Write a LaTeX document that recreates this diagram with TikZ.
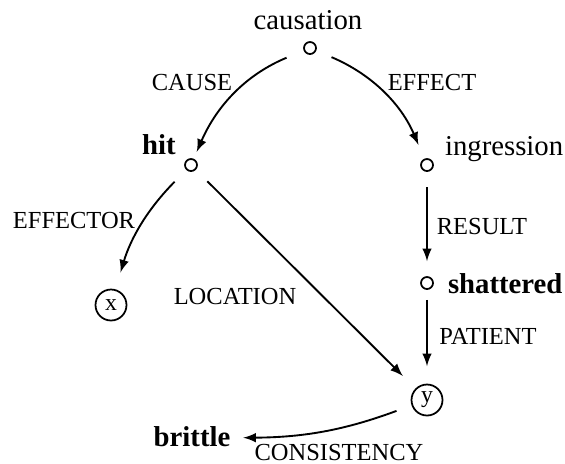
\documentclass[tikz,border=0pt]{standalone}
\usepackage{fontspec}
\setmainfont{Liberation Serif}
\usepackage{tikz}
\usetikzlibrary{calc, positioning}

\tikzset{
    dot/.style={circle, draw, line width=0.7pt, inner sep=0pt, minimum size=4.8pt},
    var/.style={circle, draw, line width=0.7pt, inner sep=0pt, minimum size=12.4pt, font=\fontsize{9.5}{10}\selectfont},
    word/.style={inner sep=1pt, font=\fontsize{11.5}{13}\selectfont},
    bword/.style={word, font=\fontsize{11.5}{13}\selectfont\bfseries},
    rel/.style={inner sep=1pt, font=\fontsize{9.8}{11}\selectfont},
    link/.style={->, line width=0.75pt}
}

\begin{document}
\begin{tikzpicture}[>=latex, x=0.4pt, y=-0.4pt]
    \useasboundingbox (0,0) rectangle (565,463);

    % 1. Cac nut
    \node[dot] (cau) at (310,48) {};
    \node[dot] (hit) at (191,165) {};
    \node[dot] (ing) at (427,165) {};
    \node[dot] (sha) at (427,283) {};
    \node[var] (x) at (111,305) {x};
    \node[var] (y) at (427,400) {y};

    % 2. Chu cua cac nut
    \node[word] (tcau) at (308,20) {causation};
    \node[bword] (thit) at (159,145) {hit};
    \node[word, anchor=west] (ting) at (442,149) {ingression};
    \node[bword, anchor=west] (tsha) at (445,284) {shattered};
    \node[bword] (tbri) at (192,437) {brittle};

    % 3. Cac cung
    \draw[link, bend right=22, shorten <=7.4pt, shorten >=3pt] (cau) to (hit);
    \draw[link, bend left=22, shorten <=6.6pt, shorten >=6pt] (cau) to (ing);
    \draw[link, bend right=14, shorten <=6.6pt, shorten >=7pt] (hit) to (x);
    \draw[link, shorten <=6.5pt, shorten >=7.1pt] (hit) -- (y);
    \draw[link, shorten <=6.2pt, shorten >=6pt] (ing) -- (sha);
    \draw[link, shorten <=4pt, shorten >=7pt] (sha) -- (y);
    \draw[link, bend left=10, shorten <=6.4pt, shorten >=4pt] (y) to (tbri);

    % 4. Nhan cua cac cung
    \node[rel] (lcause) at (192,82) {CAUSE};
    \node[rel] (leffect) at (432,82) {EFFECT};
    \node[rel] (leffector) at (74,220) {EFFECTOR};
    \node[rel] (lloc) at (235,296) {LOCATION};
    \node[rel] (lres) at (482,226) {RESULT};
    \node[rel] (lpat) at (488,336) {PATIENT};
    \node[rel] (lcons) at (339,452) {CONSISTENCY};
\end{tikzpicture}
\end{document}
